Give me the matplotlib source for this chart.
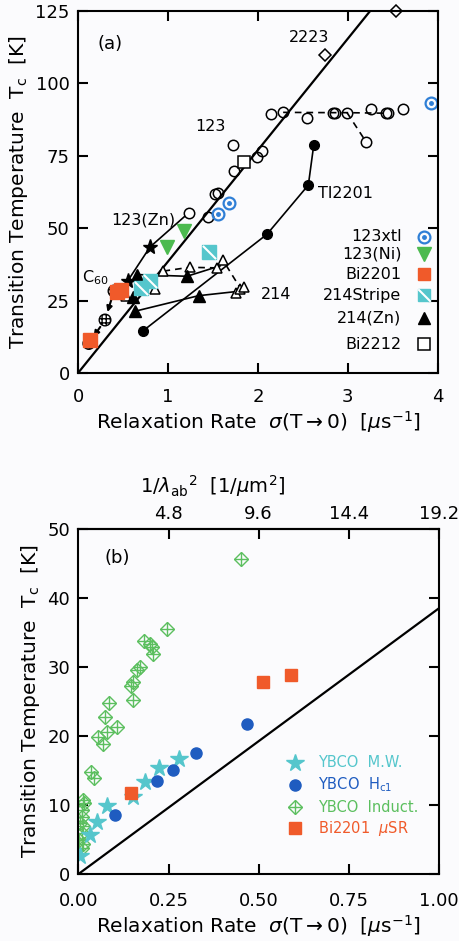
import numpy as np
import matplotlib
matplotlib.use('Agg')
import matplotlib.pyplot as plt
from matplotlib.path import Path
from matplotlib.ticker import FormatStrFormatter

plt.rcParams['font.family'] = ['DejaVu Sans']
plt.rcParams['mathtext.fontset'] = 'dejavusans'

# ---- панель (a): Tc против sigma(T->0) ----
sig_123 = [2.14, 2.28, 2.54, 2.83, 2.86, 2.99, 3.20, 3.26, 3.42, 3.44, 3.61,
           1.72, 1.73, 1.99, 2.05, 1.52, 1.56, 1.45]
tc_123 = [89.4, 90.0, 88.1, 89.9, 89.7, 89.9, 79.9, 91.0, 89.7, 89.7, 91.0,
          78.6, 69.9, 74.5, 76.8, 61.7, 62.0, 54.0]
sig_123_dash = [2.28, 2.83, 2.99, 3.44]
tc_123_dash = [90.0, 89.9, 89.9, 89.7]
sig_123_branch = [2.99, 3.20]
tc_123_branch = [89.9, 79.9]

sig_2223 = [2.74, 3.53]
tc_2223 = [109.8, 125.0]

sig_tl2201 = [0.72, 2.10, 2.56, 2.62]
tc_tl2201 = [14.5, 47.9, 64.9, 78.7]

sig_zn123_star = [0.55, 0.80]
tc_zn123_star = [31.7, 43.5]
sig_zn123_line = [0.55, 0.80, 1.23]
tc_zn123_line = [31.7, 43.5, 55.3]
sig_zn123_open = [1.23]
tc_zn123_open = [55.3]

sig_ni123 = [0.99, 1.18]
tc_ni123 = [43.5, 49.0]

sig_xtl = [1.56, 1.68, 3.92]
tc_xtl = [54.8, 58.8, 93.1]

sig_bi2201 = [0.13, 0.43, 0.48]
tc_bi2201 = [11.5, 28.0, 28.8]

sig_stripe = [0.70, 0.80, 1.46]
tc_stripe = [29.5, 31.8, 41.9]

sig_214 = [0.53, 0.86, 0.95, 1.24, 1.55, 1.61, 1.76, 1.80, 1.85]
tc_214 = [26.5, 29.0, 35.2, 36.5, 36.3, 39.0, 27.5, 29.0, 29.8]
sig_214_dash = [0.95, 1.24, 1.55, 1.61, 1.80]
tc_214_dash = [35.2, 36.5, 36.3, 39.0, 29.5]

sig_zn214 = [0.65, 1.21, 0.61, 0.63, 1.34]
tc_zn214 = [34.0, 33.4, 26.2, 21.3, 26.7]
sig_zn214_hi = [0.65, 1.21, 1.58]
tc_zn214_hi = [34.0, 33.4, 37.0]
sig_zn214_lo = [0.63, 1.34, 1.78]
tc_zn214_lo = [21.3, 26.7, 28.2]

sig_bi2212 = [1.84]
tc_bi2212 = [73.0]

sig_c60 = [0.12, 0.30, 0.40]
tc_c60 = [10.2, 18.3, 28.3]

# ---- панель (b): YBCO и Bi2201 при малых sigma ----
sig_mw = [0.004, 0.032, 0.052, 0.080, 0.152, 0.184, 0.223, 0.280]
tc_mw = [2.6, 5.6, 7.6, 9.8, 11.2, 13.4, 15.3, 16.6]

sig_hc1 = [0.101, 0.217, 0.261, 0.326, 0.468]
tc_hc1 = [8.6, 13.5, 15.1, 17.5, 21.8]

sig_ind = [0.451, 0.245, 0.182, 0.198, 0.204, 0.206, 0.171, 0.163, 0.150,
           0.145, 0.152, 0.085, 0.074, 0.078, 0.108, 0.055, 0.069, 0.034,
           0.043, 0.013, 0.016, 0.009, 0.010, 0.004, 0.013, 0.009, 0.002,
           0.013, 0.009]
tc_ind = [45.7, 35.5, 33.8, 33.3, 32.9, 31.9, 30.0, 29.5, 27.8,
          27.2, 25.2, 24.8, 22.7, 20.6, 21.3, 19.9, 18.9, 14.8,
          13.9, 10.7, 10.3, 9.3, 8.3, 7.4, 6.9, 5.9, 4.9,
          4.4, 3.7]

sig_bi_musr = [0.146, 0.513, 0.590]
tc_bi_musr = [11.8, 27.9, 28.9]

uemura_slope = 38.5          # K на мкс^-1
lambda_per_sigma = 19.2      # 1/мкм^2 на мкс^-1

cyan = '#55c6cc'
blue = '#1f5cc0'
green = '#5cbf5f'
orange = '#f05a2a'
ring_blue = '#2f7fd6'
ni_green = '#4cba4f'

stripe = Path([(-0.45, 0.45), (0.45, -0.45)], [Path.MOVETO, Path.LINETO])

xlabel = r'Relaxation Rate  $\sigma$(T$\rightarrow$0)  [$\mu$s$^{-1}$]'
ylabel = r'Transition Temperature  T$_{\rm c}$  [K]'

fig = plt.figure(figsize=(4.59, 9.41), dpi=100)
fig.patch.set_facecolor('#fbfbfd')
axa = fig.add_axes([0.170, 0.6036, 0.784, 0.3847])
axb = fig.add_axes([0.171, 0.0712, 0.785, 0.3666])

for ax in (axa, axb):
    ax.set_facecolor('#fbfbfd')
    for s in ax.spines.values():
        s.set_linewidth(1.5)

# ---------------- (a) ----------------
ax = axa
xs = np.linspace(0, 4, 50)
ax.plot(xs, uemura_slope * xs, color='black', lw=1.6, zorder=2)

ax.plot(sig_123_dash, tc_123_dash, ls=(0, (4, 3)), color='black', lw=1.2)
ax.plot(sig_123_branch, tc_123_branch, ls=(0, (4, 3)), color='black', lw=1.2)
ax.plot(sig_123, tc_123, 'o', mfc='none', mec='black', ms=7.5, mew=1.1)

ax.plot(sig_2223, tc_2223, 'D', mfc='none', mec='black', ms=6, mew=1.1,
        clip_on=False)

ax.plot(sig_tl2201, tc_tl2201, '-o', color='black', ms=7, lw=1.2)

ax.plot(sig_zn123_line, tc_zn123_line, '-', color='black', lw=1.2)
ax.plot(sig_zn123_star, tc_zn123_star, '*', color='black', ms=11)
ax.plot(sig_zn123_open, tc_zn123_open, 'o', mfc='white', mec='black', ms=7.5, mew=1.1)

ax.plot(sig_214_dash, tc_214_dash, ls=(0, (4, 3)), color='black', lw=1.2)
ax.plot(sig_zn214_hi, tc_zn214_hi, '-', color='black', lw=1.2)
ax.plot(sig_zn214_lo, tc_zn214_lo, '-', color='black', lw=1.2)
ax.plot(sig_214, tc_214, '^', mfc='white', mec='black', ms=7.5, mew=1.1)
ax.plot(sig_zn214, tc_zn214, '^', color='black', ms=8)

ax.plot(sig_ni123, tc_ni123, 'v', color=ni_green, ms=10)
ax.plot(sig_xtl, tc_xtl, 'o', mfc='none', mec=ring_blue, ms=8.5, mew=1.6, clip_on=False)
ax.plot(sig_xtl, tc_xtl, 'o', color=ring_blue, ms=2.5, clip_on=False)
ax.plot(sig_stripe, tc_stripe, 's', color=cyan, ms=9.5)
ax.plot(sig_stripe, tc_stripe, marker=stripe, ls='none', mec='white', ms=9.5, mew=1.5)
ax.plot(sig_bi2212, tc_bi2212, 's', mfc='white', mec='black', ms=9, mew=1.1)

ax.scatter(sig_c60, tc_c60, s=70, facecolor='white', edgecolor='black',
           hatch='++++', linewidth=1.0, zorder=3)
for i in range(len(sig_c60) - 1, 0, -1):
    ax.annotate('', xy=(sig_c60[i - 1], tc_c60[i - 1]), xytext=(sig_c60[i], tc_c60[i]),
                arrowprops=dict(arrowstyle='-|>', color='black', lw=1.5,
                                mutation_scale=8, shrinkA=6, shrinkB=6))
ax.plot(sig_bi2201, tc_bi2201, 's', color=orange, ms=10, zorder=4)

ax.set_xlim(0, 4)
ax.set_ylim(0, 125)
ax.set_xticks([0, 1, 2, 3, 4])
ax.set_yticks([0, 25, 50, 75, 100, 125])
ax.tick_params(direction='in', length=7, width=1.5, top=True, right=True,
               labelsize=13)
ax.tick_params(axis='x', pad=11)
ax.tick_params(axis='y', pad=6)

ax.text(0.36, 113.6, '(a)', fontsize=13, ha='center', va='center')
ax.text(2.57, 116, '2223', fontsize=11.5, ha='center', va='center')
ax.text(1.47, 85, '123', fontsize=11.5, ha='center', va='center')
ax.text(2.67, 62, 'Tl2201', fontsize=11.5, ha='left', va='center')
ax.text(0.73, 52.8, '123(Zn)', fontsize=11.5, ha='center', va='center')
ax.text(0.19, 33, r'C$_{60}$', fontsize=11.5, ha='center', va='center')
ax.text(2.2, 27, '214', fontsize=11.5, ha='center', va='center')

leg_a = [
    ('123xtl', 0.3765, 'xtl'),
    ('123(Ni)', 0.3287, 'ni'),
    ('Bi2201', 0.2735, 'bi'),
    ('214Stripe', 0.2155, 'stripe'),
    ('214(Zn)', 0.151, 'zn'),
    ('Bi2212', 0.080, 'bi2212'),
]
tx, mx = 0.899, 0.961
for label, y, kind in leg_a:
    ax.text(tx, y, label, transform=ax.transAxes, fontsize=11.5,
            ha='right', va='center')
    kw = dict(transform=ax.transAxes, clip_on=False, ls='none')
    if kind == 'xtl':
        ax.plot([mx], [y], 'o', mfc='none', mec=ring_blue, ms=8.5, mew=1.6, **kw)
        ax.plot([mx], [y], 'o', color=ring_blue, ms=2.5, **kw)
    elif kind == 'ni':
        ax.plot([mx], [y], 'v', color=ni_green, ms=10, **kw)
    elif kind == 'bi':
        ax.plot([mx], [y], 's', color=orange, ms=9, **kw)
    elif kind == 'stripe':
        ax.plot([mx], [y], 's', color=cyan, ms=9, **kw)
        ax.plot([mx], [y], marker=stripe, mec='white', ms=9, mew=1.5, **kw)
    elif kind == 'zn':
        ax.plot([mx], [y], '^', color='black', ms=8, **kw)
    else:
        ax.plot([mx], [y], 's', mfc='white', mec='black', ms=8.5, mew=1.1, **kw)

ax.set_xlabel(xlabel, fontsize=14.5, labelpad=2)
ax.set_ylabel(ylabel, fontsize=14.5, labelpad=4)

# ---------------- (b) ----------------
ax = axb
xs = np.linspace(0, 1, 50)
ax.plot(xs, uemura_slope * xs, color='black', lw=1.6, zorder=2)

ax.plot(sig_ind, tc_ind, 'D', mfc='none', mec=green, ms=7.5, mew=1.0)
ax.plot(sig_ind, tc_ind, '+', color=green, ms=10.5, mew=1.0)
ax.plot(sig_mw, tc_mw, '*', color=cyan, ms=13)
ax.plot(sig_hc1, tc_hc1, 'o', color=blue, ms=8)
ax.plot(sig_bi_musr, tc_bi_musr, 's', color=orange, ms=9)

ax.set_xlim(0, 1)
ax.set_ylim(0, 50)
ax.set_xticks([0, 0.25, 0.5, 0.75, 1.0])
ax.set_yticks([0, 10, 20, 30, 40, 50])
ax.xaxis.set_major_formatter(FormatStrFormatter('%.2f'))
ax.tick_params(direction='in', length=7, width=1.5, top=False, right=True,
               labelsize=13)
ax.tick_params(axis='x', pad=13)
ax.tick_params(axis='y', pad=6)

sec = ax.secondary_xaxis('top', functions=(lambda s: s * lambda_per_sigma,
                                           lambda l: l / lambda_per_sigma))
sec.set_xticks([4.8, 9.6, 14.4, 19.2])
sec.tick_params(direction='in', length=7, width=1.5, labelsize=13, pad=4)
sec.spines['top'].set_linewidth(1.5)
fig.text(213 / 459, 1 - 486 / 941, r'1/$\lambda_{\rm ab}$$^2$  [1/$\mu$m$^2$]',
         fontsize=14, ha='center', va='center')

ax.text(0.107, 45.8, '(b)', fontsize=13, ha='center', va='center')

leg_b = [
    ('YBCO  M.W.', 0.3226, cyan, 'star'),
    (r'YBCO  H$_{\rm c1}$', 0.258, blue, 'circle'),
    ('YBCO  Induct.', 0.193, green, 'diamond'),
    (r'Bi2201  $\mu$SR', 0.1325, orange, 'square'),
]
mx, tx = 0.600, 0.664
for label, y, col, kind in leg_b:
    ax.text(tx, y, label, transform=ax.transAxes, fontsize=10.5, color=col,
            ha='left', va='center')
    kw = dict(transform=ax.transAxes, clip_on=False, ls='none')
    if kind == 'star':
        ax.plot([mx], [y], '*', color=col, ms=13, **kw)
    elif kind == 'circle':
        ax.plot([mx], [y], 'o', color=col, ms=8, **kw)
    elif kind == 'diamond':
        ax.plot([mx], [y], 'D', mfc='none', mec=col, ms=7.5, mew=1.0, **kw)
        ax.plot([mx], [y], '+', color=col, ms=10.5, mew=1.0, **kw)
    else:
        ax.plot([mx], [y], 's', color=col, ms=8, **kw)

ax.set_xlabel(xlabel, fontsize=14.5, labelpad=2)
ax.set_ylabel(ylabel, fontsize=14.5, labelpad=4)

fig.savefig('out.png', dpi=100, facecolor=fig.get_facecolor())
